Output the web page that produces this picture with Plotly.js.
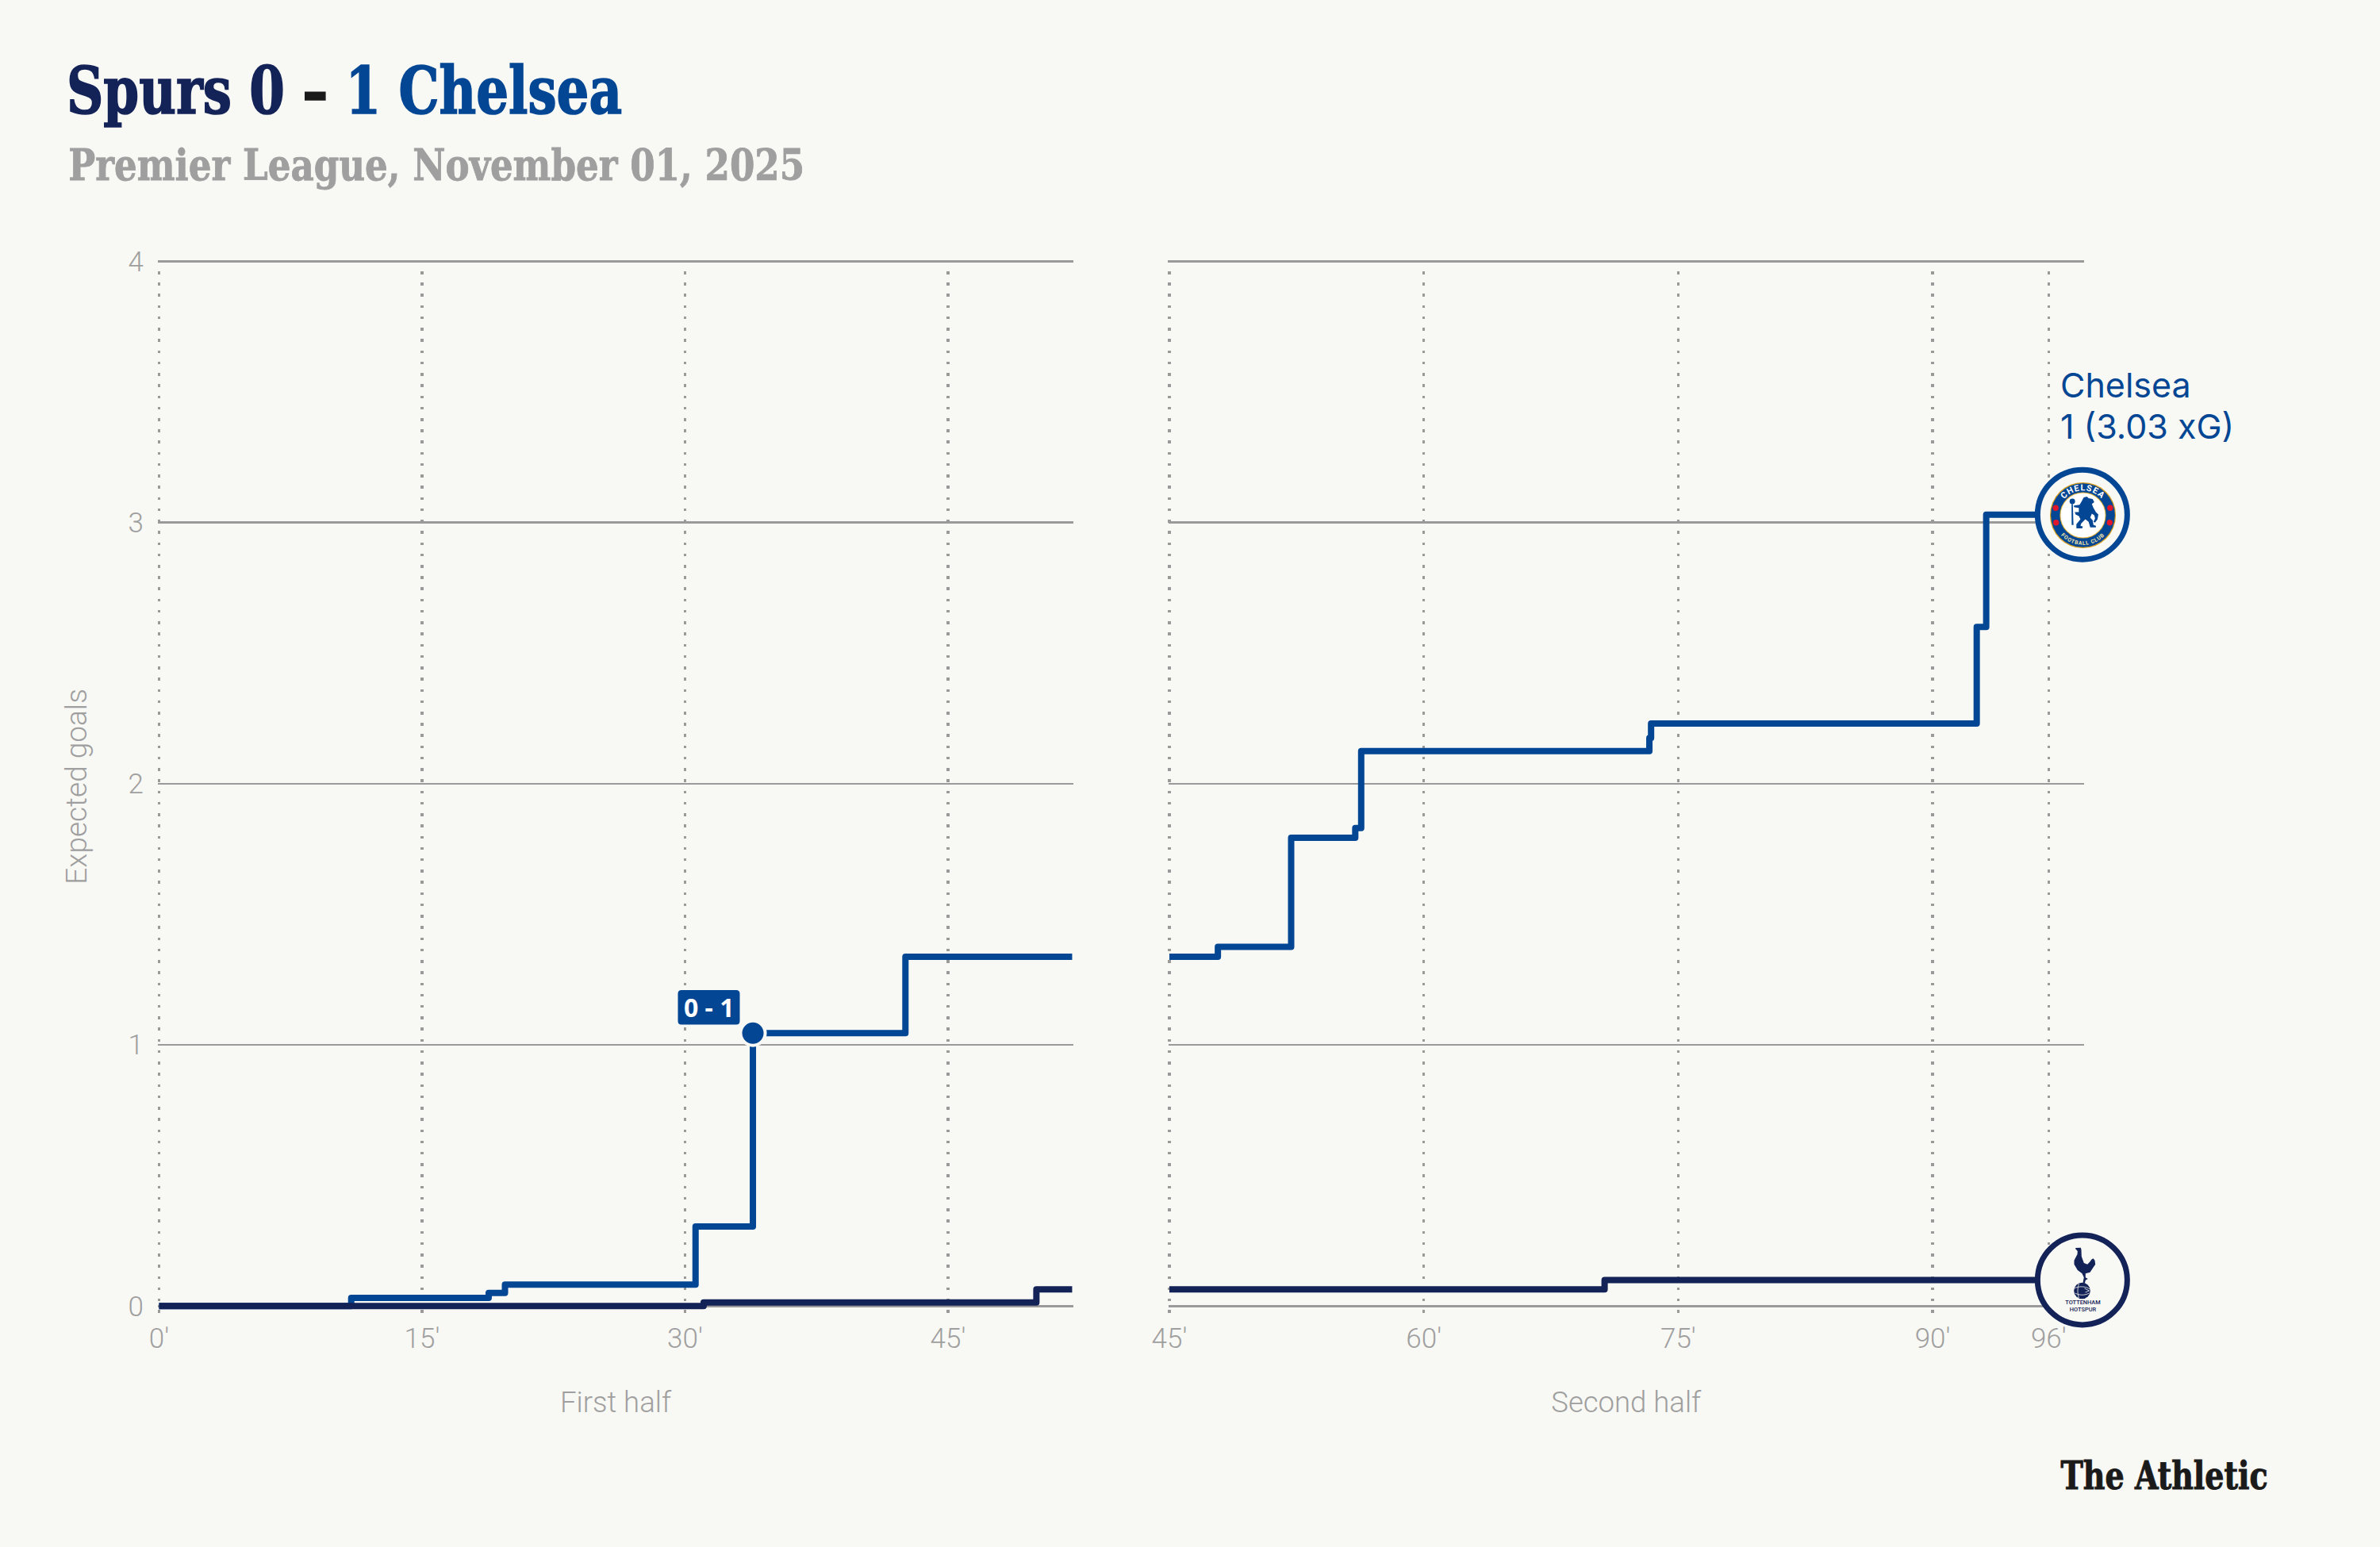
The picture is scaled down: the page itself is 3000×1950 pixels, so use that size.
<!DOCTYPE html>
<html>
<head>
<meta charset="utf-8">
<script src="https://cdn.plot.ly/plotly-3.0.1.min.js"></script>
<style>
html,body{margin:0;padding:0;background:#F8F8F4}
.scatterlayer path.js-line{stroke-linejoin:round}
.gtitle{transform-box:fill-box;transform-origin:0 50%;transform:scaleX(.87)}
.gtitle tspan:nth-of-type(1){stroke:#132257;stroke-width:1.6px}
.gtitle tspan:nth-of-type(2){stroke:#1a1a1a;stroke-width:1.6px}
.gtitle tspan:nth-of-type(3){stroke:#034694;stroke-width:1.6px}
.annotation[data-index="0"] .annotation-text{transform-box:fill-box;transform-origin:0 50%;transform:scaleX(.93);stroke:#9f9f9f;stroke-width:.8px}
.annotation[data-index="4"] .annotation-text{transform-box:fill-box;transform-origin:100% 50%;transform:scaleX(.88);stroke:#1a1a1a;stroke-width:1px}
</style>
</head>
<body>
<div id="chart" style="width:3000px;height:1950px"></div>
<script>
// ---- data ----
const chelseaFirstX  = [0, 10.96, 18.8, 19.73, 30.6, 33.87, 42.57, 52.08];
const chelseaFirstY  = [0, 0.031, 0.05, 0.082, 0.305, 1.045, 1.337, 1.337];
const chelseaSecondX = [45, 47.86, 52.18, 55.96, 56.31, 73.3, 73.4, 92.6, 93.16, 98.83];
const chelseaSecondY = [1.337, 1.375, 1.793, 1.83, 2.125, 2.175, 2.23, 2.6, 3.03, 3.03];
const spursFirstX    = [0, 31.06, 50.04, 52.08];
const spursFirstY    = [0, 0.014, 0.064, 0.064];
const spursSecondX   = [45, 70.66, 98.83];
const spursSecondY   = [0.064, 0.1, 0.1];
const goalX = [33.87];
const goalY = [1.045];
const endX = [98.83];
const chelseaEndY = [3.03];
const spursEndY = [0.1];
const firstTicks = [0, 15, 30, 45];
const firstLabels = ["0'", "15'", "30'", "45'"];
const secondTicks = [45, 60, 75, 90, 96.84];
const secondLabels = ["45'", "60'", "75'", "90'", "96'"];
const yTicks = [0, 1, 2, 3, 4];

// ---- style ----
const BG = '#F8F8F4', BLUE = '#034694', NAVY = '#132257', GREY = '#9f9f9f', W = 3000, H = 1950;
const SLAB = '"DejaVu Serif Condensed","DejaVu Serif",serif';
const SANS = 'Roboto, sans-serif';
const px = v => v / W, py = v => 1 - v / H;

function svgUri(s){ return 'data:image/svg+xml;charset=utf-8,' + encodeURIComponent(s); }
const chelseaCrest = `<svg xmlns="http://www.w3.org/2000/svg" viewBox="0 0 82 82" width="328" height="328">
<circle cx="41" cy="41" r="40.6" fill="#d9a021"/><circle cx="41" cy="41" r="39.4" fill="#034694"/>
<circle cx="41" cy="41" r="28.4" fill="#e2b23a"/><circle cx="41" cy="41" r="27.4" fill="#fff"/>
<defs><path id="t" d="M10.5 41a30.5 30.5 0 0 1 61 0"/><path id="b" d="M4.5 41a36.5 36.5 0 0 0 73 0"/></defs>
<text font-family="Roboto,sans-serif" font-weight="700" font-size="10.5" fill="#fff" letter-spacing="1.1" text-anchor="middle"><textPath href="#t" startOffset="50%">CHELSEA</textPath></text>
<text font-family="Roboto,sans-serif" font-weight="700" font-size="6.6" fill="#f4e3a8" letter-spacing=".8" text-anchor="middle"><textPath href="#b" startOffset="50%">FOOTBALL CLUB</textPath></text>
<g fill="#e0162b"><circle cx="7.5" cy="32" r="3.6"/><circle cx="74.5" cy="32" r="3.6"/><circle cx="8" cy="50" r="3.6"/><circle cx="74" cy="50" r="3.6"/></g>
<g fill="#034694"><path d="M27 27l1.6 0 .8 26-2.2 0z"/><circle cx="28" cy="24" r="3.4"/>
<path d="M42 19l4-1 2 2 5 1 2 4-3 2 2 5 3 5 3 3-1 6-3 4-2-1 2-4-1-4-3-2-2 5 3 3 1 6 3 1 0 2-7 0-2-7-4-3-5 5-1 3 3 1-1 2-7 0 0-5 5-6-2-4-4-2-1-3 5 0 0-5-6-1 0-2 7-1 3-5z"/></g>
</svg>`;
const spursCrest = `<svg xmlns="http://www.w3.org/2000/svg" viewBox="0 0 46 84" width="184" height="336">
<g fill="#132257"><path d="M13.7 2L20.3 1.7 21 4.3 21.3 12.7 24.3 21 28.7 22.7 32 19.3 33.7 16.7 36 15.3 38 17.7 38.7 22.7 35.3 27.7 32 32.7 26.3 34.3 26.3 39.3 29.3 41 26.3 42.7 25.3 46.7 23 46 24.3 39.3 22 34.3 16.3 30 12 22.7 12 17.7 16 10 16.3 6 13.7 3.3z"/>
<circle cx="22" cy="56" r="10.3"/></g>
<path d="M12 53c6-3 14-3 20 1M13 59c6 3 12 3 18 0M18 47c-2 6-2 13 0 18M25 53l6 3-5 2" stroke="#F8F8F4" stroke-width=".8" fill="none"/>
<text x="23" y="73" font-family="Roboto,sans-serif" font-size="7.4" font-weight="500" fill="#132257" text-anchor="middle">TOTTENHAM</text>
<text x="23" y="82" font-family="Roboto,sans-serif" font-size="7.4" font-weight="500" fill="#132257" text-anchor="middle">HOTSPUR</text>
</svg>`;

const line = (x, y, color, xa) => ({x, y, xaxis: xa, yaxis: 'y', type: 'scatter', mode: 'lines',
  line: {shape: 'hv', color, width: 8}, hoverinfo: 'skip', showlegend: false, cliponaxis: false});
const endMarker = (y, color) => ({x: endX, y, xaxis: 'x2', yaxis: 'y', type: 'scatter', mode: 'markers', cliponaxis: false,
  marker: {size: 113, color: BG, line: {color, width: 7}, opacity: 1}, hoverinfo: 'skip', showlegend: false});

const traces = [
  line(chelseaFirstX, chelseaFirstY, BLUE, 'x'),
  line(chelseaSecondX, chelseaSecondY, BLUE, 'x2'),
  line(spursFirstX, spursFirstY, NAVY, 'x'),
  line(spursSecondX, spursSecondY, NAVY, 'x2'),
  {x: goalX, y: goalY, xaxis: 'x', yaxis: 'y', type: 'scatter', mode: 'markers', cliponaxis: false,
   marker: {size: 31, color: BLUE, line: {color: BG, width: 4}}, hoverinfo: 'skip', showlegend: false},
  endMarker(chelseaEndY, BLUE),
  endMarker(spursEndY, NAVY)
];

const xBase = {
  showline: false, zeroline: false, ticks: '', showgrid: true, gridcolor: '#9a9a9a', gridwidth: 3.5,
  griddash: '3.5px,10.73px', tickmode: 'array', tickfont: {family: SANS, size: 35, color: GREY, weight: 300},
  tickangle: 0, anchor: 'y', fixedrange: true, automargin: false, ticklabelstandoff: 8
};
const axisTitle = t => ({text: t, font: {family: SANS, size: 36.5, color: GREY, weight: 300}, standoff: 47});

const layout = {
  width: W, height: H, autosize: false,
  paper_bgcolor: BG, plot_bgcolor: BG,
  margin: {l: 0, r: 0, t: 0, b: 0}, showlegend: false,
  title: {
    text: '<span style="color:' + NAVY + '">Spurs 0 </span><span style="color:#1a1a1a">– </span><span style="color:' + BLUE + '">1 Chelsea</span>',
    font: {family: SLAB, size: 82, weight: 700}, x: px(84), xref: 'paper', xanchor: 'left',
    y: py(143), yref: 'paper', yanchor: 'bottom', pad: {l: 0, r: 0, t: 0, b: 0}
  },
  xaxis: Object.assign({}, xBase, {domain: [px(199), px(1353)], range: [-0.068, 52.15],
    tickvals: firstTicks, ticktext: firstLabels, title: axisTitle('First half')}),
  xaxis2: Object.assign({}, xBase, {domain: [px(1472.5), px(2627)], range: [44.93, 98.93],
    tickvals: secondTicks, ticktext: secondLabels, title: axisTitle('Second half')}),
  yaxis: {
    domain: [py(1655), py(327.8)], range: [-0.0264, 4.0046], tickmode: 'array', tickvals: yTicks,
    ticktext: yTicks.map(String), showgrid: true, gridcolor: '#9a9a9a', gridwidth: 2.5, zeroline: false, showline: false,
    ticks: '', tickfont: {family: SANS, size: 35, color: GREY, weight: 300}, anchor: 'x', fixedrange: true,
    automargin: false, ticklabelstandoff: 17,
    title: {text: 'Expected goals', font: {family: SANS, size: 37, color: GREY, weight: 300}, standoff: 40}
  },
  annotations: [
    {xref: 'paper', yref: 'paper', x: px(84), y: py(242), xanchor: 'left', yanchor: 'bottom', showarrow: false,
     text: 'Premier League, November 01, 2025', font: {family: SLAB, size: 54, color: GREY, weight: 700}},
    {xref: 'paper', yref: 'paper', x: px(2595), y: py(513), xanchor: 'left', yanchor: 'bottom', showarrow: false, align: 'left',
     text: 'Chelsea', font: {family: 'Inter, sans-serif', size: 43, color: BLUE}},
    {xref: 'paper', yref: 'paper', x: px(2595), y: py(565), xanchor: 'left', yanchor: 'bottom', showarrow: false, align: 'left',
     text: '1 (3.03 xG)', font: {family: 'Inter, sans-serif', size: 43, color: BLUE}},
    {xref: 'paper', yref: 'paper', x: px(893.5), y: py(1269.7), xanchor: 'center', yanchor: 'middle', showarrow: false,
     text: '<b>0 - 1</b>', font: {family: '"Noto Sans", sans-serif', size: 32, color: '#ffffff'}},
    {xref: 'paper', yref: 'paper', x: px(2861), y: py(1890), xanchor: 'right', yanchor: 'bottom', showarrow: false,
     text: '<b>The Athletic</b>', font: {family: SLAB, size: 48, color: '#1a1a1a'}}
  ],
  shapes: [
    {type: 'path', xref: 'paper', yref: 'paper', layer: 'above',
     path: (() => { const l = px(853), r = px(934), t = py(1246.5), b = py(1293), dx = px(6), dy = 6 / H;
       return `M${l + dx},${t} L${r - dx},${t} Q${r},${t} ${r},${t - dy} L${r},${b + dy} Q${r},${b} ${r - dx},${b} L${l + dx},${b} Q${l},${b} ${l},${b + dy} L${l},${t - dy} Q${l},${t} ${l + dx},${t} Z`; })(),
     fillcolor: BLUE, line: {color: BG, width: 3}}
  ],
  images: [
    {source: svgUri(chelseaCrest), xref: 'paper', yref: 'paper', x: px(2625.5), y: py(649.5), sizex: 84 / W, sizey: 84 / H,
     xanchor: 'center', yanchor: 'middle', sizing: 'contain', layer: 'above'},
    {source: svgUri(spursCrest), xref: 'paper', yref: 'paper', x: px(2625.5), y: py(1613), sizex: 84 / W, sizey: 84 / H,
     xanchor: 'center', yanchor: 'middle', sizing: 'contain', layer: 'above'}
  ]
};

Plotly.newPlot('chart', traces, layout, {staticPlot: true, displayModeBar: false});
</script>
</body>
</html>
